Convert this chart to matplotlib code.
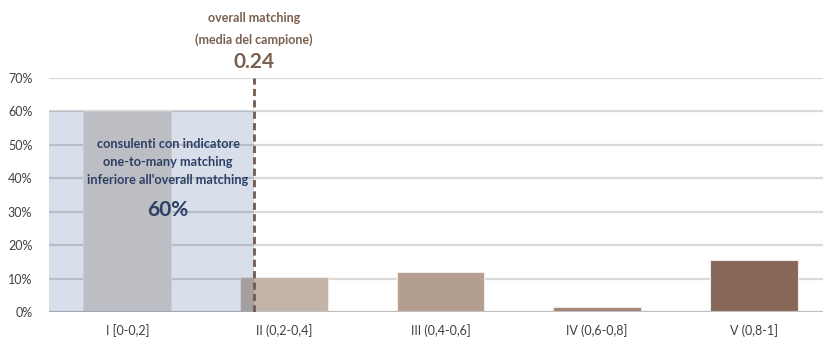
import matplotlib
matplotlib.use("Agg")
import matplotlib.pyplot as plt
from matplotlib.patches import Rectangle

# Data
categories = ["I [0-0,2]", "II (0,2-0,4]", "III (0,4-0,6]", "IV (0,6-0,8]", "V (0,8-1]"]
shares = [0.600, 0.105, 0.121, 0.016, 0.157]
overall_matching = 0.24
share_below_overall = 0.60
y_ticks = [0.0, 0.1, 0.2, 0.3, 0.4, 0.5, 0.6, 0.7]

bar_colors = ["#dfd8d3", "#c4b4a8", "#b49e90", "#a28372", "#876858"]
divider_x = 0.81  # position of the overall-matching marker along the category axis

plt.rcParams["font.family"] = ["Lato", "DejaVu Sans"]

fig = plt.figure(figsize=(8.23, 3.44), dpi=100)
ax = fig.add_axes([49 / 823, 1 - 312 / 344, (832 - 49) / 823, (312 - 78) / 344])

x = list(range(len(categories)))
ax.bar(x, shares, width=0.56, color=bar_colors, edgecolor="#eeeae6", linewidth=0.8, zorder=2)

ax.set_xlim(-0.5, len(categories) - 0.5)
ax.set_ylim(0, 0.7)
ax.set_yticks(y_ticks)
ax.set_yticklabels([f"{int(round(v * 100))}%" for v in y_ticks])
ax.set_xticks(x)
ax.set_xticklabels(categories)
ax.tick_params(axis="both", length=0, labelsize=9, colors="#404040")
ax.tick_params(axis="y", pad=12)
ax.tick_params(axis="x", pad=9)

for v in y_ticks[1:]:
    ax.axhline(v, color="#d9d9d9", linewidth=1.6, zorder=1)
ax.axhline(0, color="#bfbfbf", linewidth=1.6, zorder=3)
for s in ax.spines.values():
    s.set_visible(False)

# shaded area: advisors below the overall matching
ax.add_patch(Rectangle((-0.5, 0), divider_x + 0.5, share_below_overall,
                       facecolor="#002a73", alpha=0.15, edgecolor="none", zorder=4))

ax.axvline(divider_x, ymin=0, ymax=1, color="#7a5848", linewidth=2.0,
           linestyle=(0, (2.6, 1.5)), zorder=5)

# marker caption above the plot
brown = "#7a6050"
fx = ax.transData.transform((divider_x, 0))[0] / fig.bbox.width
fig.text(fx, 1 - 18 / 344, "overall matching", ha="center", va="center",
         fontsize=9, fontweight="bold", color=brown)
fig.text(fx, 1 - 40 / 344, "(media del campione)", ha="center", va="center",
         fontsize=9, fontweight="bold", color=brown)
fig.text(fx, 1 - 62 / 344, f"{overall_matching:.2f}", ha="center", va="center",
         fontsize=15, fontweight="bold", color=brown)

navy = "#2e3f66"
ax.text(0.26, 0.522, "consulenti con indicatore\none-to-many matching\ninferiore all'overall matching",
        ha="center", va="top", fontsize=9.2, fontweight="bold", color=navy, linespacing=1.62, zorder=6)
ax.text(0.26, 0.305, f"{share_below_overall * 100:.0f}%", ha="center", va="center",
        fontsize=15, fontweight="bold", color=navy, zorder=6)

fig.savefig("out.png", dpi=100)
